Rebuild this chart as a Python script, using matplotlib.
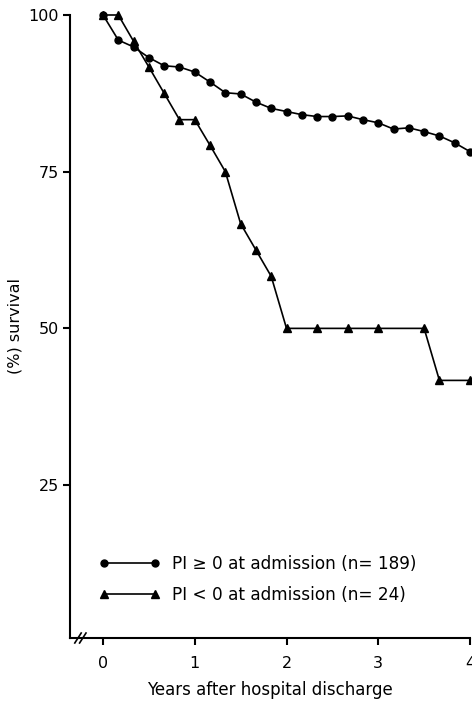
import matplotlib
matplotlib.use("Agg")
import matplotlib.pyplot as plt

# survival curves (years, % surviving)
years_pos = [0, 1/6, 2/6, 3/6, 4/6, 5/6, 1, 7/6, 8/6, 9/6, 10/6, 11/6, 2,
             13/6, 14/6, 15/6, 16/6, 17/6, 3, 19/6, 20/6, 21/6, 22/6, 23/6, 4]
surv_pos = [100, 96.0, 94.9, 93.2, 91.9, 91.7, 90.9, 89.3, 87.6, 87.4, 86.1, 85.1, 84.6,
            84.1, 83.8, 83.8, 83.9, 83.3, 82.8, 81.8, 82.0, 81.4, 80.7, 79.6, 78.2]

years_neg = [0, 1/6, 2/6, 3/6, 4/6, 5/6, 1, 7/6, 8/6, 9/6, 10/6, 11/6, 2,
             14/6, 16/6, 3, 3.5, 22/6, 4]
surv_neg = [100, 100, 95.8, 91.7, 87.5, 83.3, 83.3, 79.2, 75.0, 66.7, 62.5, 58.3, 50.0,
            50.0, 50.0, 50.0, 50.0, 41.7, 41.7]

label_pos = "PI \u2265 0 at admission (n= 189)"
label_neg = "PI < 0 at admission (n= 24)"
xticks = [0, 1, 2, 3, 4]
yticks = [25, 50, 75, 100]

plt.rcParams['font.family'] = ['DejaVu Sans']

fig = plt.figure(figsize=(4.72, 7.01), dpi=100)
ax = fig.add_axes([70/472, 63/701, 400/472, 623/701])

ax.plot(years_pos, surv_pos, color='black', lw=1.2, marker='o', ms=5,
        clip_on=False, label=label_pos)
ax.plot(years_neg, surv_neg, color='black', lw=1.2, marker='^', ms=5.5,
        clip_on=False, label=label_neg)

ax.set_xlim(-0.36, 4.0)
ax.set_ylim(0.6, 100)
ax.set_xticks(xticks)
ax.set_yticks(yticks)
ax.tick_params(direction='out', length=5, width=1.5, labelsize=11.5, pad=3)
ax.tick_params(axis='x', pad=8)
for s in ['top', 'right']:
    ax.spines[s].set_visible(False)
for s in ['left', 'bottom']:
    ax.spines[s].set_linewidth(1.5)

ax.set_ylabel("(%) survival", fontsize=11.5)
ax.yaxis.set_label_coords(-0.118, 0.5)
ax.set_xlabel("Years after hospital discharge", fontsize=12, labelpad=7)

# axis break mark on the x axis
for dx in (0.0, 0.012):
    ax.plot([0.012 + dx, 0.028 + dx], [-0.008, 0.008], transform=ax.transAxes,
            color='black', lw=1.2, clip_on=False)

ax.legend(loc='lower left', bbox_to_anchor=(0.035, 0.03), frameon=False,
          numpoints=2, handlelength=3.6, fontsize=12.2, labelspacing=0.8,
          handletextpad=0.7)

fig.savefig("out.png", dpi=100)
